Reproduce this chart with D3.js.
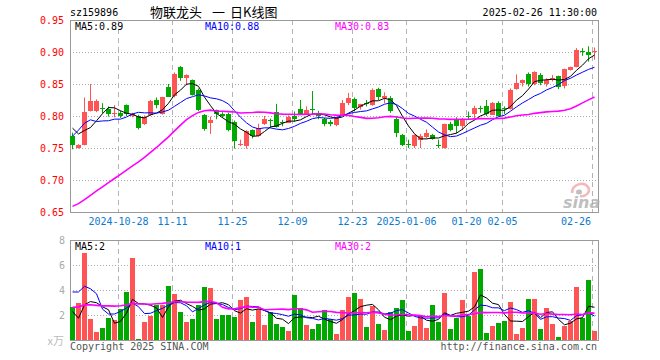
<!DOCTYPE html>
<html>
<head>
<meta charset="utf-8">
<script src="https://cdn.jsdelivr.net/npm/d3@7"></script>
<style>
  body { margin: 0; background: #fff; }
  text { font-family: "DejaVu Sans Mono", "Liberation Mono", monospace; }
</style>
</head>
<body>
<div id="chart"></div>
<script>
// daily candles, 88 sessions (index 0 .. 87)
const openP = [0.769,0.750,0.755,0.808,0.808,0.812,0.811,0.803,0.804,0.817,0.800,0.800,0.787,0.802,0.825,0.803,0.846,0.830,0.877,0.860,0.856,0.841,0.802,0.790,0.809,0.803,0.803,0.791,0.756,0.753,0.778,0.769,0.787,0.794,0.807,0.790,0.790,0.800,0.811,0.803,0.811,0.804,0.796,0.790,0.786,0.803,0.820,0.826,0.813,0.821,0.818,0.842,0.828,0.828,0.796,0.771,0.756,0.753,0.761,0.767,0.771,0.754,0.750,0.788,0.793,0.784,0.800,0.803,0.812,0.815,0.803,0.820,0.812,0.812,0.843,0.852,0.866,0.850,0.864,0.849,0.858,0.862,0.846,0.872,0.877,0.902,0.900,0.900];
const highP = [0.774,0.756,0.829,0.850,0.826,0.820,0.815,0.817,0.808,0.818,0.805,0.802,0.801,0.825,0.829,0.830,0.850,0.868,0.878,0.865,0.857,0.843,0.803,0.799,0.810,0.806,0.805,0.793,0.763,0.778,0.779,0.788,0.800,0.796,0.819,0.794,0.801,0.807,0.825,0.815,0.839,0.808,0.797,0.794,0.799,0.825,0.836,0.829,0.819,0.825,0.843,0.844,0.837,0.831,0.800,0.772,0.763,0.771,0.772,0.779,0.772,0.763,0.788,0.791,0.798,0.797,0.807,0.816,0.816,0.825,0.822,0.823,0.815,0.843,0.865,0.857,0.868,0.870,0.867,0.859,0.864,0.863,0.874,0.877,0.906,0.906,0.909,0.907];
const lowP = [0.748,0.749,0.754,0.807,0.806,0.804,0.799,0.798,0.797,0.800,0.798,0.779,0.786,0.800,0.812,0.802,0.830,0.829,0.855,0.848,0.832,0.808,0.777,0.772,0.795,0.797,0.776,0.749,0.753,0.749,0.765,0.768,0.786,0.781,0.782,0.784,0.789,0.791,0.802,0.802,0.803,0.795,0.784,0.784,0.784,0.802,0.817,0.807,0.810,0.815,0.816,0.825,0.820,0.805,0.767,0.753,0.750,0.750,0.750,0.765,0.763,0.750,0.749,0.776,0.773,0.778,0.795,0.795,0.805,0.800,0.802,0.799,0.803,0.810,0.841,0.846,0.846,0.848,0.848,0.846,0.854,0.842,0.843,0.871,0.876,0.894,0.885,0.888];
const closeP = [0.755,0.755,0.807,0.823,0.823,0.810,0.803,0.805,0.800,0.803,0.803,0.781,0.798,0.824,0.817,0.829,0.831,0.865,0.860,0.864,0.833,0.810,0.780,0.794,0.803,0.800,0.778,0.761,0.757,0.777,0.768,0.782,0.795,0.793,0.784,0.789,0.799,0.795,0.803,0.809,0.810,0.799,0.788,0.787,0.798,0.821,0.828,0.812,0.818,0.819,0.841,0.829,0.831,0.807,0.774,0.756,0.754,0.770,0.768,0.773,0.764,0.753,0.787,0.778,0.784,0.795,0.798,0.813,0.811,0.802,0.821,0.800,0.810,0.841,0.852,0.856,0.851,0.869,0.851,0.856,0.860,0.845,0.873,0.876,0.903,0.900,0.895,0.902];
const volume = [2.61,2.99,6.99,1.68,0.64,0.99,1.79,1.60,2.45,3.87,6.59,0.05,1.47,1.92,2.80,2.80,4.32,3.71,2.27,1.47,1.68,2.80,4.24,4.16,1.71,2.00,2.00,1.84,3.23,3.44,1.44,2.51,1.20,2.27,1.28,1.07,0.72,3.60,2.56,1.20,0.88,1.28,2.40,1.65,0.48,2.40,3.44,3.76,3.28,1.04,2.72,1.28,0.80,2.24,2.56,3.20,0.72,1.12,1.92,0.96,2.80,1.44,3.76,0.88,1.79,3.20,1.92,5.44,5.68,0.56,1.12,1.36,1.52,3.04,0.48,1.00,3.28,3.28,0.88,2.56,1.28,0.24,1.12,1.55,4.24,1.79,4.80,0.72];
// sessions before the window, only used for the moving averages
const prevClose = [0.625,0.622,0.618,0.620,0.615,0.610,0.608,0.610,0.605,0.600,0.595,0.590,0.588,0.585,0.582,0.580,0.585,0.590,0.610,0.640,0.660,0.700,0.770,0.850,0.800,0.800,0.780,0.800,0.770];
const prevVolume = [1.8,2.2,1.5,1.9,2.4,1.7,2.1,1.6,2.0,2.3,1.9,1.8,2.2,1.6,2.0,2.1,1.9,2.4,2.5,2.0,3.0,2.4,3.7,4.6,13.3,5.7,1.6,0.4,1.1];

const dateTickIdx = [8,17,27,37,47,56,66,72,87];
const dateTickLabels = ["2024-10-28","11-11","11-25","12-09","12-23","2025-01-06","01-20","02-05","02-26"];
const priceTicks = [0.65,0.70,0.75,0.80,0.85,0.90,0.95];
const volTicks = [2,4,6,8];

const width = 660, height = 360;
const margin = {left: 70, right: 598};
const RED = "#ff5454", GREEN = "#00a800";

const svg = d3.select("#chart").append("svg")
    .attr("width", width).attr("height", height)
    .style("display", "block");

let x = d3.scaleBand()
    .domain(d3.range(closeP.length))
    .range([margin.left, margin.right]);
let cx = i => x(i) + 2.5;

let yP = d3.scaleLinear().domain([0.65, 0.95]).range([212, 20]);
let yV = d3.scaleLinear().domain([0, 8]).range([340, 240]);

function movingAvg(series, prev, n) {
  const all = prev.concat(series);
  return series.map((_, i) => d3.mean(all.slice(i + prev.length - n + 1, i + prev.length + 1)));
}

// ---------- grids ----------
function grid(g, yScale, ticks, top, bottom) {
  g.selectAll(".hg").data(ticks).enter().append("line")
      .attr("x1", margin.left).attr("x2", margin.right)
      .attr("y1", d => Math.round(yScale(d)) + 0.5).attr("y2", d => Math.round(yScale(d)) + 0.5)
      .attr("stroke", "#aaa").attr("stroke-dasharray", "1,2");
  g.selectAll(".vg").data(dateTickIdx).enter().append("line")
      .attr("x1", d => x(d) + 0.5).attr("x2", d => x(d) + 0.5)
      .attr("y1", top).attr("y2", bottom)
      .attr("stroke", "#b4b4b4").attr("stroke-dasharray", "5,4");
  g.append("rect")
      .attr("x", margin.left + 0.5).attr("y", top + 0.5)
      .attr("width", margin.right - margin.left).attr("height", bottom - top)
      .attr("fill", "none").attr("stroke", "#999");
}

grid(svg.append("g"), yP, [0.70, 0.75, 0.80, 0.85, 0.90], 20, 212);
grid(svg.append("g"), yV, [2, 4, 6], 240, 340);

// ---------- axes ----------
svg.append("g")
    .attr("transform", `translate(${margin.left},0)`)
    .attr("font-size", 10)
    .call(d3.axisLeft(yP).tickValues(priceTicks).tickFormat(d3.format(".2f")).tickSize(0).tickPadding(6))
    .call(g => g.select(".domain").remove())
    .call(g => g.selectAll("text").attr("fill", "#f00").attr("font-family", "DejaVu Sans Mono"));

svg.append("g")
    .attr("transform", `translate(${margin.left},0)`)
    .attr("font-size", 11)
    .call(d3.axisLeft(yV).tickValues(volTicks).tickSize(0).tickPadding(5))
    .call(g => g.select(".domain").remove())
    .call(g => g.selectAll("text").attr("fill", "#aaa").attr("font-family", "DejaVu Sans"));

svg.append("text")
    .attr("x", 64).attr("y", 345)
    .attr("text-anchor", "end")
    .attr("font-size", 11).attr("fill", "#bbb")
    .style("font-family", "Noto Sans CJK SC")
    .text("x万");

svg.append("g").selectAll("text")
    .data(dateTickIdx)
    .enter().append("text")
      .attr("x", (d, k) => k === dateTickIdx.length - 1 ? x(d) - 1 : x(d) + 0.5)
      .attr("y", 225)
      .attr("text-anchor", (d, k) => k === dateTickIdx.length - 1 ? "end" : "middle")
      .attr("font-size", 10)
      .attr("fill", "#0a7ad0")
      .text((d, k) => dateTickLabels[k]);

// sina watermark (behind the marks)
const logo = svg.append("g").attr("opacity", 0.75);
logo.append("path")
    .attr("d", "M572,193 C572,184 584,181 588,187 C591,192 586,197 580,196")
    .attr("fill", "none").attr("stroke", "#f4a0a0").attr("stroke-width", 2.5);
logo.append("ellipse").attr("cx", 579).attr("cy", 192).attr("rx", 3).attr("ry", 2.5).attr("fill", "#aaa");
logo.append("text").attr("x", 563).attr("y", 208)
    .style("font-family", "DejaVu Sans").style("font-style", "italic").style("font-weight", "bold")
    .attr("font-size", 16).attr("fill", "#aaa").text("sina");

// ---------- candles ----------
const candles = svg.append("g");
candles.selectAll("line")
    .data(closeP)
    .enter().append("line")
      .attr("x1", (d, i) => cx(i)).attr("x2", (d, i) => cx(i))
      .attr("y1", (d, i) => yP(highP[i])).attr("y2", (d, i) => yP(lowP[i]))
      .attr("stroke", (d, i) => d >= openP[i] ? RED : GREEN);

candles.selectAll("rect")
    .data(closeP)
    .enter().append("rect")
      .attr("x", (d, i) => x(i))
      .attr("width", x.bandwidth() - 1)
      .attr("y", (d, i) => Math.round(yP(Math.max(d, openP[i]))))
      .attr("height", (d, i) => Math.max(1, Math.round(Math.abs(yP(d) - yP(openP[i])))))
      .attr("fill", (d, i) => d >= openP[i] ? RED : GREEN)
      .attr("shape-rendering", "crispEdges");

// ---------- volume ----------
svg.append("g").selectAll("rect")
    .data(volume)
    .enter().append("rect")
      .attr("x", (d, i) => x(i))
      .attr("width", x.bandwidth() - 1)
      .attr("y", d => Math.round(yV(d)))
      .attr("height", d => Math.max(1, Math.round(yV(0) - yV(d))))
      .attr("fill", (d, i) => closeP[i] >= openP[i] ? RED : GREEN)
      .attr("shape-rendering", "crispEdges");

// ---------- moving averages ----------
const maDefs = [
  {n: 5, color: "#000", w: 1},
  {n: 10, color: "#00f", w: 1},
  {n: 30, color: "#f0f", w: 1.6}
];

maDefs.forEach(m => {
  const pm = movingAvg(closeP, prevClose, m.n);
  const vm = movingAvg(volume, prevVolume, m.n);
  svg.append("path")
      .attr("d", d3.line().x((d, i) => cx(i)).y(d => yP(d))(pm))
      .attr("fill", "none").attr("stroke", m.color).attr("stroke-width", m.w);
  svg.append("path")
      .attr("d", d3.line().x((d, i) => cx(i)).y(d => yV(d))(vm))
      .attr("fill", "none").attr("stroke", m.color).attr("stroke-width", m.w);
});

// ---------- legends / titles ----------
const priceLegend = [["MA5:0.89", "#000", 75], ["MA10:0.88", "#00f", 205], ["MA30:0.83", "#f0f", 335]];
const volLegend = [["MA5:2", "#000", 75], ["MA10:1", "#00f", 205], ["MA30:2", "#f0f", 335]];

svg.append("g").selectAll("text").data(priceLegend).enter().append("text")
    .attr("x", d => d[2]).attr("y", 30)
    .attr("font-size", 10).attr("fill", d => d[1]).text(d => d[0]);
svg.append("g").selectAll("text").data(volLegend).enter().append("text")
    .attr("x", d => d[2]).attr("y", 250)
    .attr("font-size", 10).attr("fill", d => d[1]).text(d => d[0]);

svg.append("text").attr("x", 70).attr("y", 16).attr("font-size", 10).text("sz159896");
svg.append("text").attr("x", 597).attr("y", 16).attr("font-size", 10)
    .attr("text-anchor", "end").text("2025-02-26 11:30:00");

const title = svg.append("g").attr("font-size", 13);
title.append("text").attr("x", 150).attr("y", 17).style("font-family", "Noto Sans CJK SC").text("物联龙头");
title.append("text").attr("x", 212).attr("y", 17).style("font-family", "Noto Sans CJK SC").text("一");
title.append("text").attr("x", 230).attr("y", 17).style("font-family", "Noto Sans CJK SC").text("日K线图");

svg.append("text").attr("x", 70).attr("y", 350).attr("font-size", 10)
    .attr("fill", "#555").text("Copyright 2025 SINA.COM");
svg.append("text").attr("x", 597).attr("y", 350).attr("font-size", 10)
    .attr("text-anchor", "end").attr("fill", "#555").text("http://finance.sina.com.cn");
</script>
</body>
</html>
